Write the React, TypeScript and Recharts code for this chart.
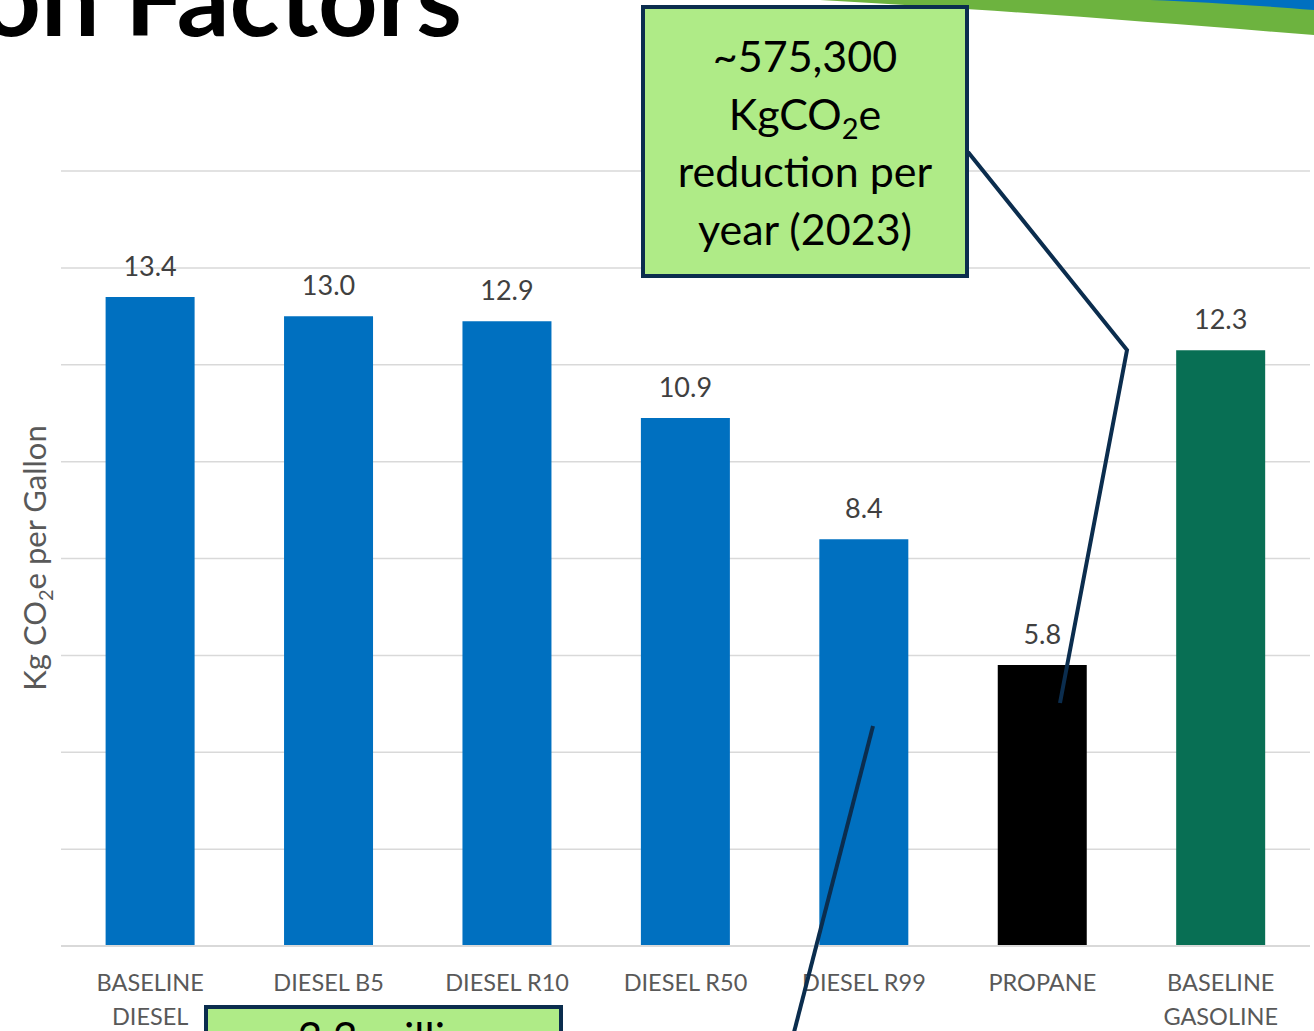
import React from 'react';
import { BarChart, Bar, XAxis, YAxis, CartesianGrid, Cell, LabelList } from 'recharts';

const categories = ['BASELINE\nDIESEL', 'DIESEL B5', 'DIESEL R10', 'DIESEL R50', 'DIESEL R99', 'PROPANE', 'BASELINE\nGASOLINE'];
const emissions = [13.4, 13.0, 12.9, 10.9, 8.4, 5.8, 12.3];
const yTicks = [0, 2, 4, 6, 8, 10, 12, 14, 16];
const barColors = ['#0070C0', '#0070C0', '#0070C0', '#0070C0', '#0070C0', '#000000', '#086F54'];
const calloutTop = ['~575,300', 'KgCO', '2', 'e', 'reduction per', 'year (2023)'];
const calloutBottom = '~3.3 million';

const data = categories.map((name, i) => ({ name, value: emissions[i] }));

const FONT = 'Lato, "Open Sans", sans-serif';
const NAVY = '#0B2D4E';
const CALLOUT_FILL = '#AFEB87';

function CategoryTick(props: any) {
  const { x, y, payload } = props;
  const lines = String(payload.value).split('\n');
  return (
    <text x={x} y={y} textAnchor="middle" fill="#595959" fontSize={23.5} fontFamily={FONT}>
      {lines.map((l, i) => (
        <tspan key={i} x={x} dy={i === 0 ? 37 : 34}>{l}</tspan>
      ))}
    </text>
  );
}

function Overlay() {
  return (
    <svg width={1314} height={1031} style={{ position: 'absolute', left: 0, top: 0, pointerEvents: 'none' }}>
      {/* slide decoration */}
      <path d="M 820 0 L 1314 0 L 1314 35 C 1150 22, 1000 10, 820 0 Z" fill="#6DB33F" />
      <path d="M 1150 0 L 1314 0 L 1314 10 C 1250 5, 1200 2, 1150 0 Z" fill="#0070C0" />
      <text x={462} y={36} textAnchor="end" fontSize={104} fontWeight={700} fontFamily={FONT} fill="#000">
        Emission Factors
      </text>

      {/* leader lines */}
      <polyline points="968,152 1127,350 1060,703" fill="none" stroke={NAVY} strokeWidth={4} />
      <line x1={873} y1={726} x2={792} y2={1040} stroke={NAVY} strokeWidth={4} />

      {/* top callout */}
      <rect x={643} y={7} width={324} height={269} fill={CALLOUT_FILL} stroke={NAVY} strokeWidth={4} />
      <g fontFamily={FONT} fontSize={43} fill="#000" textAnchor="middle">
        <text x={805} y={72}>{calloutTop[0]}</text>
        <text x={805} y={130}>
          {calloutTop[1]}
          <tspan fontSize={29} dy={9}>{calloutTop[2]}</tspan>
          <tspan dy={-9}>{calloutTop[3]}</tspan>
        </text>
        <text x={805} y={187}>{calloutTop[4]}</text>
        <text x={805} y={245}>{calloutTop[5]}</text>
      </g>

      {/* bottom callout */}
      <rect x={206} y={1007} width={355} height={100} fill={CALLOUT_FILL} stroke={NAVY} strokeWidth={4} />
      <text x={383} y={1053} textAnchor="middle" fontFamily={FONT} fontSize={43} fill="#000">{calloutBottom}</text>

      {/* y axis title */}
      <text
        x={46}
        y={558}
        transform="rotate(-90 46 558)"
        textAnchor="middle"
        fontFamily={FONT}
        fontSize={31}
        fill="#595959"
      >
        Kg CO<tspan fontSize={20} dy={7}>2</tspan><tspan dy={-7}>e per Gallon</tspan>
      </text>
    </svg>
  );
}

export default function App() {
  return (
    <div style={{ position: 'relative', width: 1314, height: 1031, overflow: 'hidden', background: '#fff', fontFamily: FONT }}>
      <style>{'body { margin: 0; }'}</style>
      <BarChart
        width={1314}
        height={1031}
        data={data}
        margin={{ top: 171, right: 4, bottom: 0, left: 61 }}
        barCategoryGap="25%"
      >
        <CartesianGrid vertical={false} stroke="#D9D9D9" strokeWidth={1.5} />
        <YAxis hide domain={[0, 16]} ticks={yTicks} />
        <XAxis
          dataKey="name"
          height={85}
          axisLine={{ stroke: '#D9D9D9', strokeWidth: 2 }}
          tickLine={false}
          tick={<CategoryTick />}
          interval={0}
        />
        <Bar dataKey="value" isAnimationActive={false}>
          {data.map((d, i) => (
            <Cell key={d.name} fill={barColors[i]} />
          ))}
          <LabelList
            dataKey="value"
            position="top"
            offset={21}
            formatter={(v: any) => Number(v).toFixed(1)}
            fill="#404040"
            fontSize={27}
            fontFamily={FONT}
          />
        </Bar>
      </BarChart>
      <Overlay />
    </div>
  );
}
